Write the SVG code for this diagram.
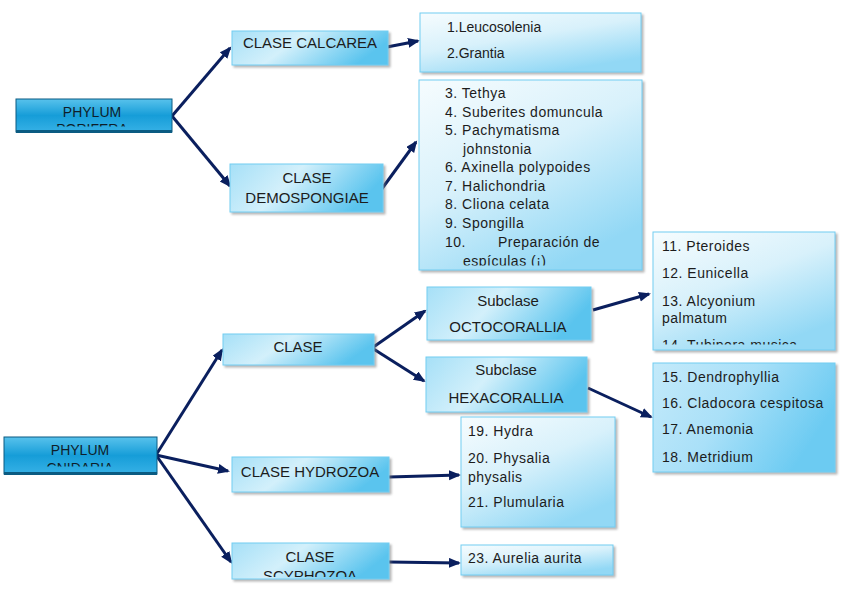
<svg xmlns="http://www.w3.org/2000/svg" width="848" height="599" viewBox="0 0 848 599">
<defs>
<linearGradient id="gClass" x1="0" y1="0" x2="1" y2="0.3">
<stop offset="0" stop-color="#a6e0f7"/>
<stop offset="0.45" stop-color="#d3f0fb"/>
<stop offset="1" stop-color="#5ac4ee"/>
</linearGradient>
<linearGradient id="gList" x1="0" y1="0" x2="0.6" y2="1">
<stop offset="0" stop-color="#f6fcfe"/>
<stop offset="0.5" stop-color="#d8f1fb"/>
<stop offset="1" stop-color="#92d8f5"/>
</linearGradient>
<linearGradient id="gListB" x1="0" y1="0" x2="1" y2="0.4">
<stop offset="0" stop-color="#c4eafa"/>
<stop offset="0.5" stop-color="#a9e0f8"/>
<stop offset="1" stop-color="#6ccbf2"/>
</linearGradient>
<linearGradient id="gPhy" x1="0" y1="0" x2="0" y2="1">
<stop offset="0" stop-color="#58c2ec"/>
<stop offset="0.5" stop-color="#169dd8"/>
<stop offset="1" stop-color="#36b1e6"/>
</linearGradient>
<filter id="sh" x="-10%" y="-10%" width="120%" height="130%">
<feDropShadow dx="2" dy="2" stdDeviation="1" flood-color="#777" flood-opacity="0.55"/>
</filter>
<marker id="ah" markerUnits="userSpaceOnUse" markerWidth="13" markerHeight="11" refX="10" refY="5" orient="auto">
<path d="M0,0 L12,5 L0,10 Z" fill="#0a1f5e"/>
</marker>
<clipPath id="cPor"><rect x="16" y="99" width="156" height="27.5"/></clipPath>
<clipPath id="cCni"><rect x="4" y="437" width="153" height="29.5"/></clipPath>
<clipPath id="cScy"><rect x="232" y="543" width="157" height="34"/></clipPath>
<clipPath id="cDem"><rect x="419" y="80" width="223" height="185.5"/></clipPath>
<clipPath id="cOct"><rect x="653" y="232" width="182" height="112.5"/></clipPath>
</defs>
<style>
.t{font-family:"Liberation Sans",Arial,sans-serif;fill:#1c1c1c}
.c{font-size:15px;text-anchor:middle}
.p{font-size:14px;text-anchor:middle;fill:#0e1e2a}
.l{font-size:14px;letter-spacing:0.5px}
.bc{fill:url(#gClass);stroke:#72cdf1;stroke-width:1;filter:url(#sh)}
.bl{fill:url(#gList);stroke:#72cdf1;stroke-width:1;filter:url(#sh)}
.bb{fill:url(#gListB);stroke:#72cdf1;stroke-width:1;filter:url(#sh)}
.bp{fill:url(#gPhy);stroke:#0b5b82;stroke-width:1}
.cn{stroke:#0a1f5e;stroke-width:3;fill:none;marker-end:url(#ah)}
</style>

<g id="connectors">
<line class="cn" x1="172" y1="116" x2="230" y2="48"/>
<line class="cn" x1="172" y1="116" x2="230" y2="186"/>
<line class="cn" x1="387" y1="47" x2="418" y2="41"/>
<line class="cn" x1="381" y1="190" x2="416" y2="142"/>
<line class="cn" x1="156" y1="455" x2="222" y2="350"/>
<line class="cn" x1="156" y1="455" x2="228" y2="471"/>
<line class="cn" x1="156" y1="455" x2="231" y2="562"/>
<line class="cn" x1="372" y1="348" x2="425" y2="311"/>
<line class="cn" x1="372" y1="348" x2="424" y2="381"/>
<line class="cn" x1="593" y1="310" x2="649" y2="294"/>
<line class="cn" x1="588" y1="388" x2="651" y2="417"/>
<line class="cn" x1="389" y1="477" x2="459" y2="475"/>
<line class="cn" x1="389" y1="562" x2="459" y2="563"/>
</g>

<g id="phylum-porifera">
<rect class="bp" x="16" y="99" width="156" height="33"/>
<rect x="16" y="130" width="156" height="3" fill="#0b5b82"/>
<g clip-path="url(#cPor)">
<text class="t p" x="92" y="117">PHYLUM</text>
<text class="t p" x="92" y="134">PORIFERA</text>
</g>
</g>

<g id="clase-calcarea">
<rect class="bc" x="232" y="31" width="156" height="34"/>
<text class="t c" x="310" y="48">CLASE CALCAREA</text>
</g>

<g id="clase-demospongiae">
<rect class="bc" x="230" y="164" width="153" height="48"/>
<text class="t c" x="307" y="183">CLASE</text>
<text class="t c" x="307" y="203">DEMOSPONGIAE</text>
</g>

<g id="list-calcarea">
<rect class="bl" x="420" y="13" width="221" height="59"/>
<text class="t" font-size="14" x="447" y="32">1.Leucosolenia</text>
<text class="t" font-size="14" x="447" y="58">2.Grantia</text>
</g>

<g id="list-demospongiae">
<rect class="bb" x="419" y="80" width="223" height="190" style="fill:url(#gList)"/>
<g clip-path="url(#cDem)">
<text class="t l" x="445" y="98">3. Tethya</text>
<text class="t l" x="445" y="117">4. Suberites domuncula</text>
<text class="t l" x="445" y="135">5. Pachymatisma</text>
<text class="t l" x="463" y="154">johnstonia</text>
<text class="t l" x="445" y="172">6. Axinella polypoides</text>
<text class="t l" x="445" y="191">7. Halichondria</text>
<text class="t l" x="445" y="209">8. Cliona celata</text>
<text class="t l" x="445" y="228">9. Spongilla</text>
<text class="t l" x="445" y="247">10.</text>
<text class="t l" x="498" y="247">Preparación de</text>
<text class="t l" x="463" y="266">espículas (¡)</text>
</g>
</g>

<g id="phylum-cnidaria">
<rect class="bp" x="4" y="437" width="153" height="37"/>
<rect x="4" y="472" width="153" height="3" fill="#0b5b82"/>
<g clip-path="url(#cCni)">
<text class="t p" x="80" y="455">PHYLUM</text>
<text class="t p" x="80" y="473">CNIDARIA</text>
</g>
</g>

<g id="clase-anthozoa">
<rect class="bc" x="223" y="334" width="151" height="31"/>
<text class="t c" x="298" y="352">CLASE</text>
</g>

<g id="clase-hydrozoa">
<rect class="bc" x="232" y="457" width="157" height="35"/>
<text class="t c" x="310" y="477">CLASE HYDROZOA</text>
</g>

<g id="clase-scyphozoa">
<rect class="bc" x="232" y="543" width="157" height="36"/>
<g clip-path="url(#cScy)">
<text class="t c" x="310" y="562">CLASE</text>
<text class="t c" x="310" y="581">SCYPHOZOA</text>
</g>
</g>

<g id="subclase-octocorallia">
<rect class="bc" x="427" y="287" width="164" height="53"/>
<text class="t c" x="508" y="306">Subclase</text>
<text class="t c" x="508" y="332">OCTOCORALLIA</text>
</g>

<g id="subclase-hexacorallia">
<rect class="bc" x="426" y="357" width="161" height="55"/>
<text class="t c" x="506" y="375">Subclase</text>
<text class="t c" x="506" y="403">HEXACORALLIA</text>
</g>

<g id="list-octocorallia">
<rect class="bl" x="653" y="232" width="182" height="118"/>
<g clip-path="url(#cOct)">
<text class="t l" x="662" y="251">11. Pteroides</text>
<text class="t l" x="662" y="278">12. Eunicella</text>
<text class="t l" x="662" y="306">13. Alcyonium</text>
<text class="t l" x="662" y="323">palmatum</text>
<text class="t l" x="662" y="350">14. Tubipora musica</text>
</g>
</g>

<g id="list-hexacorallia">
<rect class="bb" x="653" y="363" width="182" height="109"/>
<text class="t l" x="662" y="382">15. Dendrophyllia</text>
<text class="t l" x="662" y="408">16. Cladocora cespitosa</text>
<text class="t l" x="662" y="434">17. Anemonia</text>
<text class="t l" x="662" y="462">18. Metridium</text>
</g>

<g id="list-hydrozoa">
<rect class="bl" x="461" y="417" width="154" height="110"/>
<text class="t l" x="468" y="436">19. Hydra</text>
<text class="t l" x="468" y="463">20. Physalia</text>
<text class="t l" x="468" y="482">physalis</text>
<text class="t l" x="468" y="507">21. Plumularia</text>
</g>

<g id="list-scyphozoa">
<rect class="bl" x="461" y="545" width="152" height="30"/>
<text class="t l" x="468" y="563">23. Aurelia aurita</text>
</g>
</svg>
